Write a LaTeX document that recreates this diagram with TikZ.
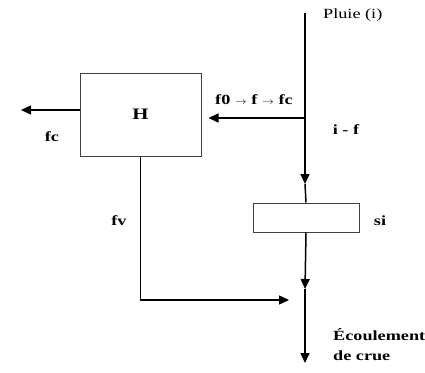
\documentclass[tikz,border=0pt]{standalone}
\usepackage{fontspec}
\setmainfont{Liberation Serif}
\usepackage{graphicx}
\usetikzlibrary{arrows.meta, positioning}
\newcommand{\wide}[1]{\scalebox{1.3}[1]{#1}}

\begin{document}
\begin{tikzpicture}[
    x=1pt, y=-1pt,
    box/.style={rectangle, draw=black!75, line width=1pt, inner sep=0pt, font=\fontsize{16}{18}\selectfont\bfseries},
    flow/.style={line width=1.5pt, -{Triangle[length=10pt, width=9pt]}},
    plain/.style={line width=1.5pt},
    lbl/.style={font=\fontsize{14}{16}\selectfont\bfseries, inner sep=0pt}
]
\useasboundingbox (0,0) rectangle (425,372);

\node[box, minimum width=121pt, minimum height=83pt] (H) at (140.5,114.5) {\wide{H}};
\node[box, minimum width=106pt, minimum height=29pt] (si) at (306,217.5) {};

\coordinate (rain) at (305,13);
\coordinate (split) at (305,118);
\coordinate (tip1) at (305,184);
\coordinate (tip2) at (305,289);
\coordinate (join) at (305,300);
\coordinate (out) at (305,363);
\coordinate (loss) at (21,110);

% labels
\node[lbl, font=\fontsize{14}{16}\selectfont, anchor=west] (pluie) at (323,15) {\wide{Pluie (i)}};
\node[lbl] (rate) at (254,100) {\wide{f0 {\small$\rightarrow$} f {\small$\rightarrow$} fc}};
\node[lbl] (excess) at (346,130) {\wide{i - f}};
\node[lbl] (fcout) at (52,137) {\wide{fc}};
\node[lbl] (fv) at (119,221) {\wide{fv}};
\node[lbl] (silbl) at (380,221) {\wide{si}};
\node[lbl, anchor=base west] (ecoul) at (333,340) {\wide{Écoulement}};
\node[lbl, anchor=base west] (crue) at (333,360) {\wide{de crue}};

% flows
\draw[plain] (rain) -- (split);
\draw[flow] (split) -- (tip1);
\draw[plain] (tip1) -- (si.north);
\draw[flow, shorten >=7pt] (split) -- (H.east |- split);
\draw[flow] (H.west |- loss) -- (loss);
\draw[flow] (si.south) -- (tip2);
\draw[flow] (tip2) -- (out);
\draw[flow, shorten >=16pt] (H.south) |- (join);
\end{tikzpicture}
\end{document}
